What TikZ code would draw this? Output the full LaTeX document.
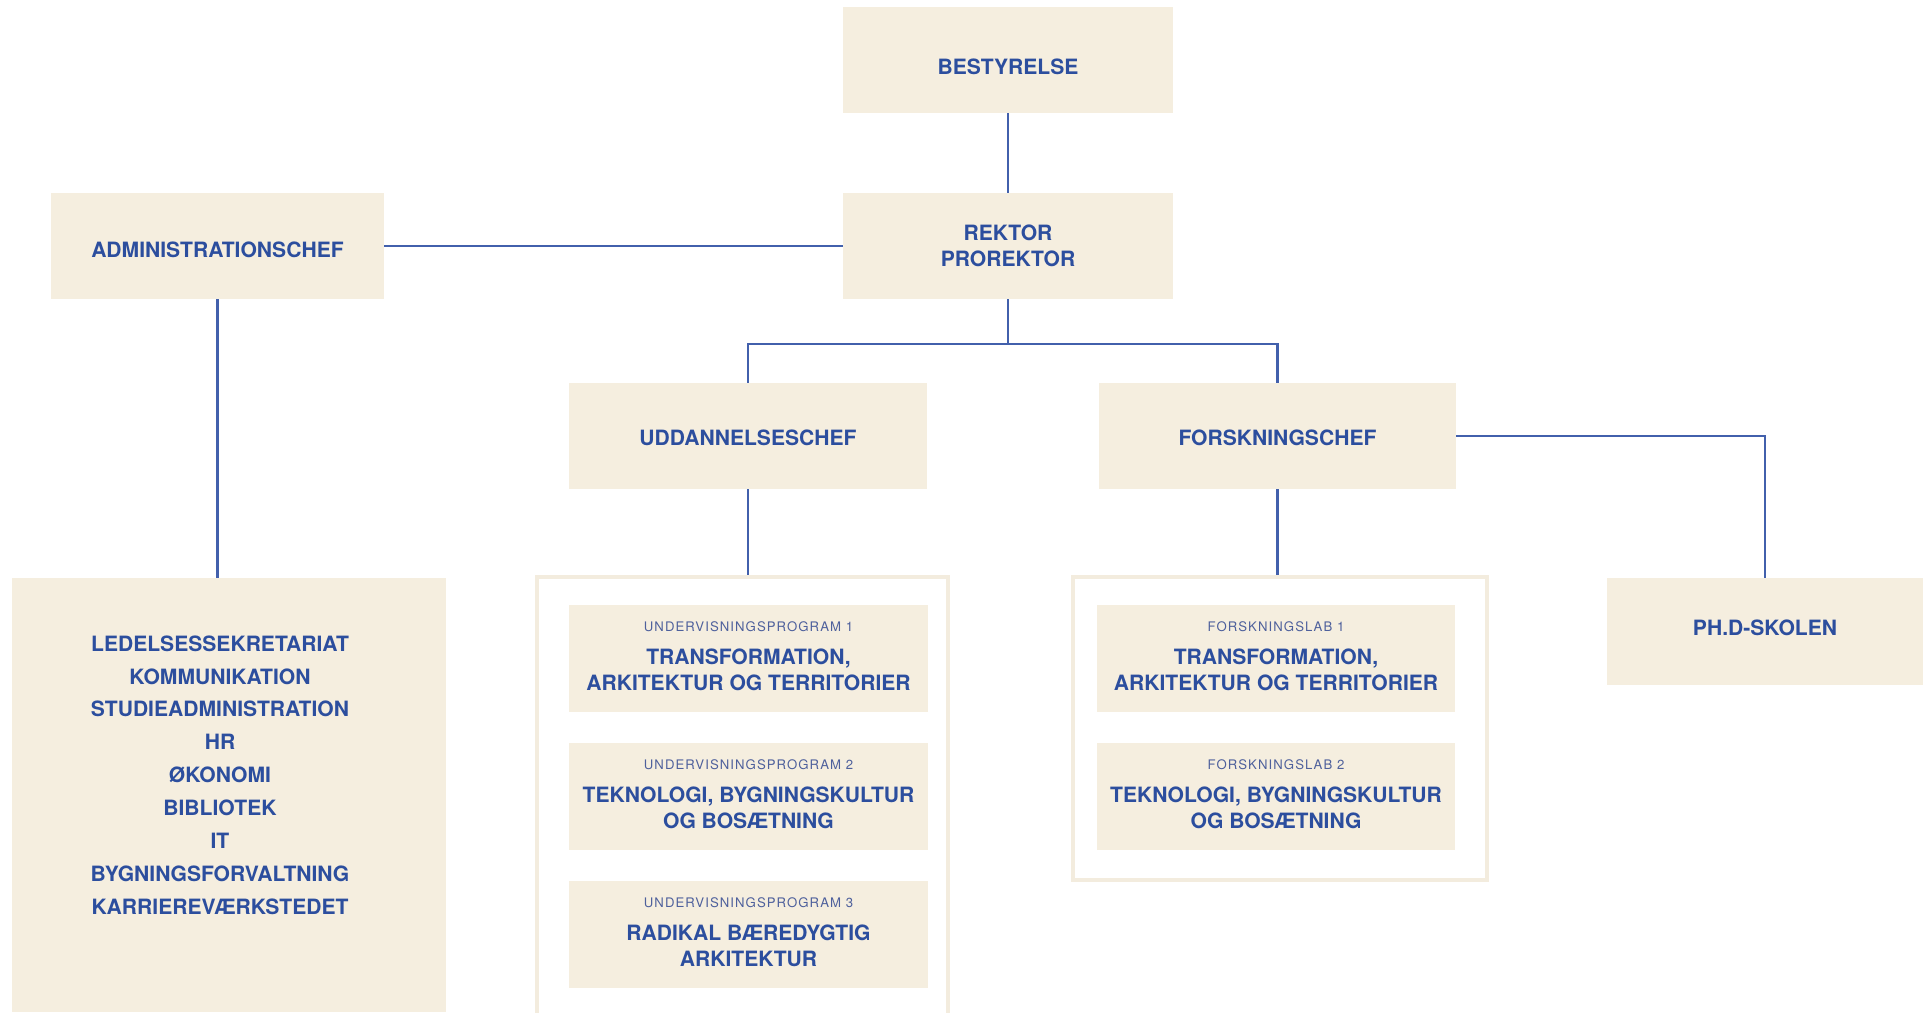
\documentclass[tikz,border=0pt]{standalone}
\usepackage{fontspec}
\setmainfont{TeX Gyre Heros}
\newfontfamily\tagfamily[LetterSpace=8]{TeX Gyre Heros}
\usetikzlibrary{positioning}
\definecolor{boxfill}{RGB}{245,238,223}
\definecolor{framefill}{RGB}{243,236,222}
\definecolor{inkblue}{RGB}{44,78,158}
\definecolor{lineblue}{RGB}{66,96,172}
\definecolor{tagblue}{RGB}{78,96,156}
\newcommand{\unittag}[1]{{\tagfamily\mdseries\fontsize{7.5}{9}\selectfont\color{tagblue}#1}\\[4.6pt]}

\begin{document}
\begin{tikzpicture}[
  x=0.02cm, y=-0.02cm,
  unit/.style={fill=boxfill,inner sep=0pt,align=center,text=inkblue,font=\bfseries\fontsize{12}{14.7}\selectfont},
  head/.style={unit,minimum width=6.6cm,minimum height=2.12cm},
  prog/.style={unit,minimum width=7.18cm,minimum height=2.14cm,text depth=0.1cm},
  frame/.style={draw=framefill,line width=1.8pt,inner sep=0pt},
  link/.style={draw=lineblue,line width=1.5pt}
]
\useasboundingbox (0,0) rectangle (1932,1012);
\clip (0,0) rectangle (1932,1012);
% top of the chart
\node[head,text height=0.58cm] (best) at (1008,60) {BESTYRELSE};
\node[head] (rek)  at (1008,246) {REKTOR\\PROREKTOR};
\node[head,minimum width=6.66cm,text height=0.45cm] (adm) at (217.5,246) {ADMINISTRATIONSCHEF};
\node[head,minimum width=7.16cm,text height=0.4cm] (udd) at (748,436) {UDDANNELSESCHEF};
\node[head,minimum width=7.14cm,text height=0.4cm] (fors) at (1277.5,436) {FORSKNINGSCHEF};
\node[unit,minimum width=6.32cm,minimum height=2.14cm,text depth=0.15cm] (phd) at (1765,631.5) {PH.D-SKOLEN};
% administration
\node[unit,minimum width=8.68cm,minimum height=8.68cm] (staff) at (229,795) {};
\node[unit,fill=none,font=\bfseries\fontsize{12}{18.7}\selectfont] (stafflist) at (220,775)
  {LEDELSESSEKRETARIAT\\KOMMUNIKATION\\STUDIEADMINISTRATION\\HR\\ØKONOMI\\BIBLIOTEK\\IT\\BYGNINGSFORVALTNING\\KARRIEREVÆRKSTEDET};
% programmes and labs
\node[frame,minimum width=8.22cm,minimum height=9.06cm] (ugrp) at (742.5,803.5) {};
\node[frame,minimum width=8.28cm,minimum height=6.06cm] (fgrp) at (1280,728.5) {};
\node[prog] (u1) at (748.5,658.5) {\unittag{UNDERVISNINGSPROGRAM 1}TRANSFORMATION,\\ARKITEKTUR OG TERRITORIER};
\node[prog] (u2) at (748.5,796.5) {\unittag{UNDERVISNINGSPROGRAM 2}TEKNOLOGI, BYGNINGSKULTUR\\OG BOSÆTNING};
\node[prog] (u3) at (748.5,934.5) {\unittag{UNDERVISNINGSPROGRAM 3}RADIKAL BÆREDYGTIG\\ARKITEKTUR};
\node[prog] (f1) at (1276,658.5) {\unittag{FORSKNINGSLAB 1}TRANSFORMATION,\\ARKITEKTUR OG TERRITORIER};
\node[prog] (f2) at (1276,796.5) {\unittag{FORSKNINGSLAB 2}TEKNOLOGI, BYGNINGSKULTUR\\OG BOSÆTNING};
% connectors
\coordinate (bus) at (1008,344);
\draw[link] (best) -- (rek);
\draw[link] (adm) -- (rek);
\draw[link] (rek) -- (bus);
\draw[link] (udd.north) |- (bus) -| (fors.north);
\draw[link] (adm) -- (adm |- staff.north);
\draw[link] (udd) -- (udd |- ugrp.north);
\draw[link] (fors) -- (fors |- fgrp.north);
\draw[link] (fors) -| (phd);
\end{tikzpicture}
\end{document}
